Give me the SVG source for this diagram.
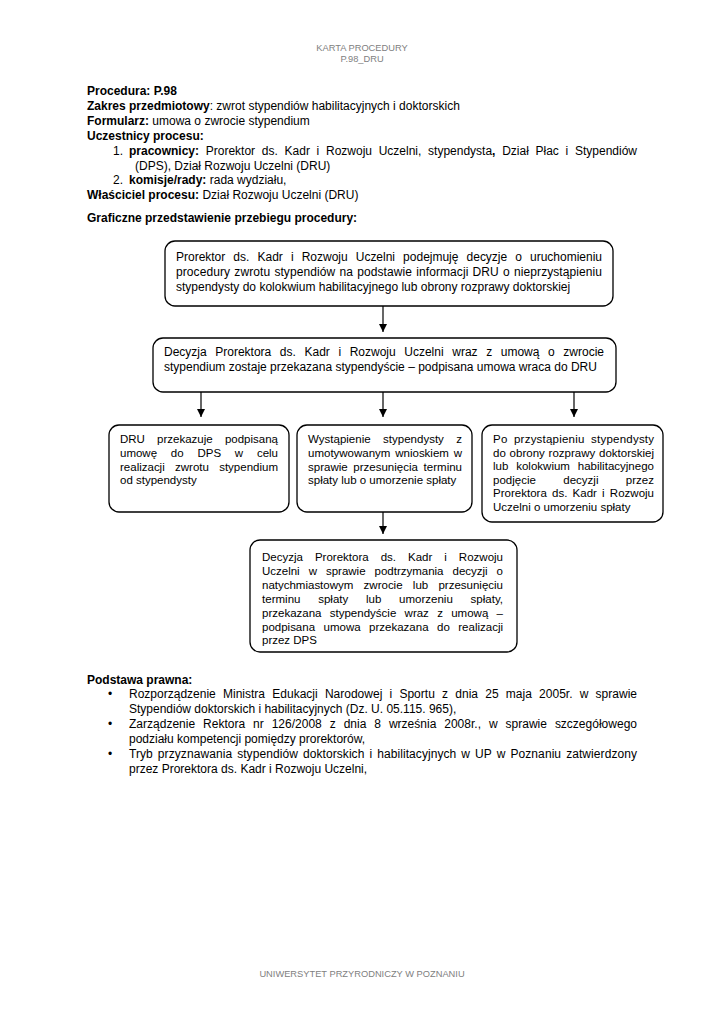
<svg xmlns="http://www.w3.org/2000/svg" width="724" height="1024" viewBox="0 0 724 1024">
<defs>
<style>
text{font-family:"Liberation Sans",Arial,sans-serif;fill:#000;}
.t{font-size:12px;}
.b{font-weight:bold;}
.s{font-size:11.5px;}
.g{font-size:9.3px;fill:#808080;}
.box{fill:#fff;stroke:#000;stroke-width:1.3;}
.con{stroke:#000;stroke-width:1.2;fill:none;}
</style>
<marker id="ah" viewBox="0 0 8 10" refX="8" refY="5" markerWidth="8" markerHeight="10" markerUnits="userSpaceOnUse" orient="auto">
<path d="M0,1 L8,5 L0,9 Z" fill="#000"/>
</marker>
</defs>
<rect width="724" height="1024" fill="#fff"/>

<g id="header">
<text class="g" x="362" y="51" text-anchor="middle">KARTA PROCEDURY</text>
<text class="g" x="362" y="62" text-anchor="middle">P.98_DRU</text>
</g>

<g id="info">
<text class="t b" x="87" y="95">Procedura: P.98</text>
<text class="t" x="87" y="110"><tspan class="b">Zakres przedmiotowy</tspan>: zwrot stypendiów habilitacyjnych i doktorskich</text>
<text class="t" x="87" y="125"><tspan class="b">Formularz:</tspan> umowa o zwrocie stypendium</text>
<text class="t b" x="87" y="140">Uczestnicy procesu:</text>
<text class="t" x="113" y="155">1.</text>
<text class="t" x="129" y="155" word-spacing="3.4" textLength="508" lengthAdjust="spacing"><tspan class="b">pracownicy:</tspan> Prorektor ds. Kadr i Rozwoju Uczelni, stypendysta<tspan class="b">,</tspan> Dział Płac i Stypendiów</text>
<text class="t" x="135" y="170">(DPS), Dział Rozwoju Uczelni (DRU)</text>
<text class="t" x="113" y="184">2.</text>
<text class="t" x="129" y="184"><tspan class="b">komisje/rady:</tspan> rada wydziału,</text>
<text class="t" x="87" y="199"><tspan class="b">Właściciel procesu:</tspan> Dział Rozwoju Uczelni (DRU)</text>
<text class="t b" x="87" y="222">Graficzne przedstawienie przebiegu procedury:</text>
</g>

<g id="connectors">
<line class="con" x1="383" y1="306" x2="383" y2="332" marker-end="url(#ah)"/>
<line class="con" x1="201" y1="392" x2="201" y2="417" marker-end="url(#ah)"/>
<line class="con" x1="383" y1="392" x2="383" y2="417" marker-end="url(#ah)"/>
<line class="con" x1="574" y1="392" x2="574" y2="417" marker-end="url(#ah)"/>
<line class="con" x1="383" y1="512" x2="383" y2="534" marker-end="url(#ah)"/>
</g>

<g id="n1">
<rect class="box" x="165" y="241" width="448" height="65" rx="10"/>
<text class="t" x="176" y="261" word-spacing="4.8" textLength="426" lengthAdjust="spacing">Prorektor ds. Kadr i Rozwoju Uczelni podejmuję decyzje o uruchomieniu</text>
<text class="t" x="176" y="276" word-spacing="0.8" textLength="426" lengthAdjust="spacing">procedury zwrotu stypendiów na podstawie informacji DRU o nieprzystąpieniu</text>
<text class="t" x="176" y="291">stypendysty do kolokwium habilitacyjnego lub obrony rozprawy doktorskiej</text>
</g>

<g id="n2">
<rect class="box" x="153" y="338" width="463" height="54" rx="10"/>
<text class="t" x="164" y="356" word-spacing="5.3" textLength="440" lengthAdjust="spacing">Decyzja Prorektora ds. Kadr i Rozwoju Uczelni wraz z umową o zwrocie</text>
<text class="t" x="164" y="371">stypendium zostaje przekazana stypendyście – podpisana umowa wraca do DRU</text>
</g>

<g id="n3">
<rect class="box" x="109" y="425" width="180" height="87" rx="10"/>
<text class="s" x="120" y="443" word-spacing="9" textLength="158" lengthAdjust="spacing">DRU przekazuje podpisaną</text>
<text class="s" x="120" y="457" word-spacing="10.6" textLength="158" lengthAdjust="spacing">umowę do DPS w celu</text>
<text class="s" x="120" y="471" word-spacing="7.1" textLength="158" lengthAdjust="spacing">realizacji zwrotu stypendium</text>
<text class="s" x="120" y="484">od stypendysty</text>
</g>

<g id="n4">
<rect class="box" x="297" y="425" width="175" height="87" rx="10"/>
<text class="s" x="308" y="443" word-spacing="9.2" textLength="154" lengthAdjust="spacing">Wystąpienie stypendysty z</text>
<text class="s" x="308" y="457" word-spacing="1.6" textLength="154" lengthAdjust="spacing">umotywowanym wnioskiem w</text>
<text class="s" x="308" y="471" word-spacing="2.5" textLength="154" lengthAdjust="spacing">sprawie przesunięcia terminu</text>
<text class="s" x="308" y="484">spłaty lub o umorzenie spłaty</text>
</g>

<g id="n5">
<rect class="box" x="482" y="425" width="181" height="97" rx="10"/>
<text class="s" x="493" y="443" word-spacing="3.1" textLength="161" lengthAdjust="spacing">Po przystąpieniu stypendysty</text>
<text class="s" x="493" y="457" word-spacing="0.6" textLength="161" lengthAdjust="spacing">do obrony rozprawy doktorskiej</text>
<text class="s" x="493" y="470" word-spacing="4.6" textLength="161" lengthAdjust="spacing">lub kolokwium habilitacyjnego</text>
<text class="s" x="493" y="484" word-spacing="24.2" textLength="161" lengthAdjust="spacing">podjęcie decyzji przez</text>
<text class="s" x="493" y="497" word-spacing="2" textLength="161" lengthAdjust="spacing">Prorektora ds. Kadr i Rozwoju</text>
<text class="s" x="493" y="511">Uczelni o umorzeniu spłaty</text>
</g>

<g id="n6">
<rect class="box" x="250" y="540" width="267" height="112" rx="10"/>
<text class="s" x="262" y="561" word-spacing="8.8" textLength="241" lengthAdjust="spacing">Decyzja Prorektora ds. Kadr i Rozwoju</text>
<text class="s" x="262" y="575" word-spacing="5.8" textLength="241" lengthAdjust="spacing">Uczelni w sprawie podtrzymania decyzji o</text>
<text class="s" x="262" y="589" word-spacing="7.1" textLength="241" lengthAdjust="spacing">natychmiastowym zwrocie lub przesunięciu</text>
<text class="s" x="262" y="603" word-spacing="14.4" textLength="241" lengthAdjust="spacing">terminu spłaty lub umorzeniu spłaty,</text>
<text class="s" x="262" y="617" word-spacing="5.1" textLength="241" lengthAdjust="spacing">przekazana stypendyście wraz z umową –</text>
<text class="s" x="262" y="631" word-spacing="5.3" textLength="241" lengthAdjust="spacing">podpisana umowa przekazana do realizacji</text>
<text class="s" x="262" y="644">przez DPS</text>
</g>

<g id="legal">
<text class="t b" x="87" y="684">Podstawa prawna:</text>
<text class="t" x="108" y="698">•</text>
<text class="t" x="129" y="698" word-spacing="3.9" textLength="508" lengthAdjust="spacing">Rozporządzenie Ministra Edukacji Narodowej i Sportu z dnia 25 maja 2005r. w sprawie</text>
<text class="t" x="129" y="713">Stypendiów doktorskich i habilitacyjnych (Dz. U. 05.115. 965),</text>
<text class="t" x="108" y="728">•</text>
<text class="t" x="129" y="728" word-spacing="4.6" textLength="508" lengthAdjust="spacing">Zarządzenie Rektora nr 126/2008 z dnia 8 września 2008r., w sprawie szczegółowego</text>
<text class="t" x="129" y="743">podziału kompetencji pomiędzy prorektorów,</text>
<text class="t" x="108" y="758">•</text>
<text class="t" x="129" y="758" word-spacing="1.6" textLength="508" lengthAdjust="spacing">Tryb przyznawania stypendiów doktorskich i habilitacyjnych w UP w Poznaniu zatwierdzony</text>
<text class="t" x="129" y="773">przez Prorektora ds. Kadr i Rozwoju Uczelni,</text>
</g>

<g id="footer">
<text class="g" x="362" y="977" text-anchor="middle">UNIWERSYTET PRZYRODNICZY W POZNANIU</text>
</g>
</svg>
